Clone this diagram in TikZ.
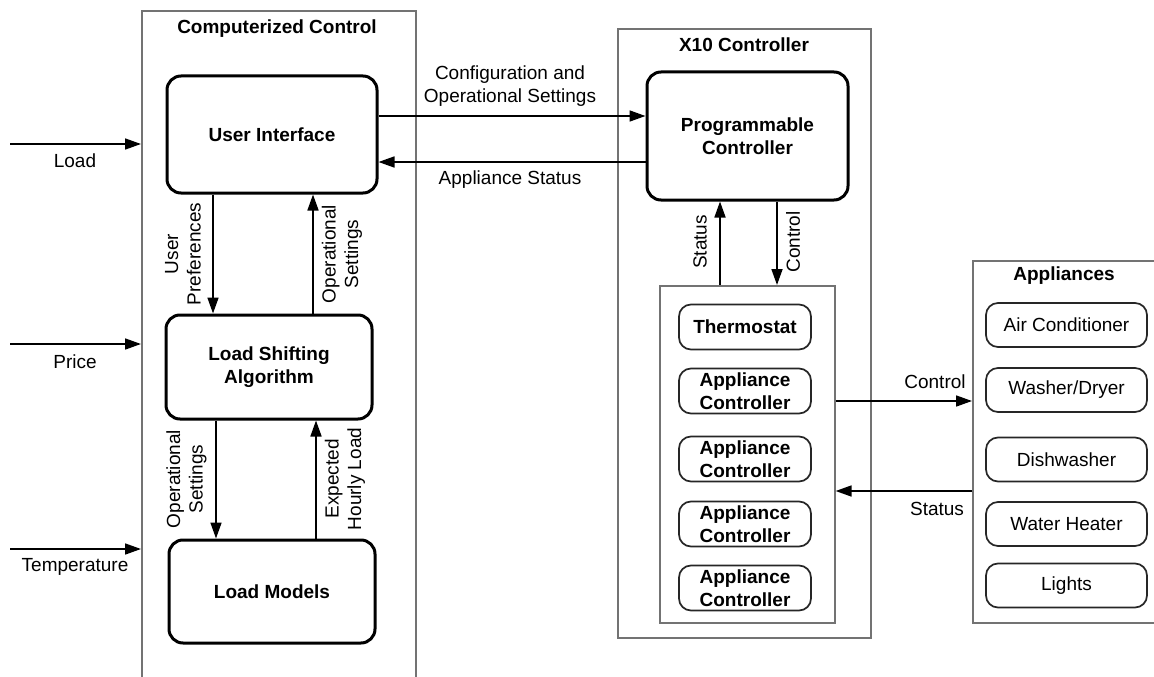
\documentclass[tikz,border=0pt]{standalone}
\usepackage{fontspec}
\setmainfont{Liberation Sans}
\usetikzlibrary{arrows.meta}
\begin{document}
\begin{tikzpicture}[x=1pt,y=-1pt,
  font=\fontsize{19}{22.5}\selectfont,
  group/.style={draw=black!55,line width=1.6pt,inner sep=0pt,anchor=north west},
  bigbox/.style={draw=black,line width=3pt,rounded corners=14pt,align=center,inner sep=0pt,font=\fontsize{19}{22.5}\selectfont\bfseries},
  smallbox/.style={draw=black!85,line width=1.7pt,rounded corners=12pt,align=center,inner sep=0pt,minimum height=45pt},
  ctrlbox/.style={smallbox,minimum width=132pt,font=\fontsize{19}{22.5}\selectfont\bfseries},
  appbox/.style={smallbox,minimum width=161pt,minimum height=44pt},
  arr/.style={-{Triangle[length=16pt,width=11pt]},line width=1.7pt},
  lbl/.style={align=center,inner sep=0pt},
  vlbl/.style={align=center,inner sep=0pt,rotate=90},
  grouptitle/.style={inner sep=0pt,anchor=base,font=\fontsize{19}{22.5}\selectfont\bfseries}]
\clip (0,0) rectangle (1154,677);
\fill[white] (0,0) rectangle (1154,677);

% group frames
\node[group,minimum width=274pt,minimum height=720pt] (cc) at (141,10) {};
\node[group,minimum width=253pt,minimum height=609pt] (x10) at (617,28) {};
\node[group,minimum width=175pt,minimum height=337pt] (inner) at (659,285) {};
\node[group,minimum width=250pt,minimum height=362pt] (app) at (972,260) {};

\node[grouptitle] (cctitle) at (277,34) {Computerized Control};
\node[grouptitle] (x10title) at (744,52) {X10 Controller};
\node[grouptitle] (apptitle) at (1064,280) {Appliances};

% main blocks
\node[bigbox,minimum width=210pt,minimum height=117pt] (ui) at (272,134.5) {User Interface};
\node[bigbox,minimum width=206pt,minimum height=104pt] (lsa) at (269,367) {Load Shifting\\Algorithm};
\node[bigbox,minimum width=206pt,minimum height=103pt] (lm) at (272,591.5) {Load Models};
\node[bigbox,minimum width=201pt,minimum height=128pt] (pc) at (747.5,136) {Programmable\\Controller};

% controllers
\node[ctrlbox] (th) at (745,327) {Thermostat};
\node[ctrlbox] (ac1) at (745,391) {Appliance\\Controller};
\node[ctrlbox] (ac2) at (745,459) {Appliance\\Controller};
\node[ctrlbox] (ac3) at (745,524) {Appliance\\Controller};
\node[ctrlbox] (ac4) at (745,588) {Appliance\\Controller};

% appliances
\node[appbox] (acon) at (1066.5,325) {Air Conditioner};
\node[appbox] (wd) at (1066.5,390) {Washer/Dryer};
\node[appbox] (dw) at (1066.5,459.5) {Dishwasher};
\node[appbox] (wh) at (1066.5,524) {Water Heater};
\node[appbox] (li) at (1066.5,585.5) {Lights};

% inputs
\coordinate (loadin) at (10,144);
\coordinate (pricein) at (10,344);
\coordinate (tempin) at (10,549);
\draw[arr] (loadin) -- (loadin -| cc.west);
\draw[arr] (pricein) -- (pricein -| cc.west);
\draw[arr] (tempin) -- (tempin -| cc.west);
\node[lbl] (loadlbl) at (75,161) {Load};
\node[lbl] (pricelbl) at (75,362) {Price};
\node[lbl] (templbl) at (75,567) {Temperature};

% UI <-> LSA
\draw[arr] (ui.south -| 213,0) -- (lsa.north -| 213,0);
\draw[arr] (lsa.north -| 313,0) -- (ui.south -| 313,0);
\node[vlbl] (uplbl) at (183,254) {User\\Preferences};
\node[vlbl] (os1lbl) at (342,254) {Operational\\Settings};

% LSA <-> LM
\draw[arr] (lsa.south -| 216,0) -- (lm.north -| 216,0);
\draw[arr] (lm.north -| 316,0) -- (lsa.south -| 316,0);
\node[vlbl] (os2lbl) at (186.5,479) {Operational\\Settings};
\node[vlbl] (ehllbl) at (345,479) {Expected\\Hourly Load};

% UI <-> PC
\draw[arr] (ui.east |- 0,116) -- (pc.west |- 0,116);
\draw[arr] (pc.west |- 0,162) -- (ui.east |- 0,162);
\node[lbl] (cfglbl) at (510,86) {Configuration and\\Operational Settings};
\node[lbl] (aslbl) at (510,179.5) {Appliance Status};

% PC <-> inner
\draw[arr] (inner.north -| 720,0) -- (pc.south -| 720,0);
\draw[arr] (pc.south -| 777,0) -- (inner.north -| 777,0);
\node[vlbl] (stlbl) at (700,242) {Status};
\node[vlbl] (ctlbl) at (793,242) {Control};

% inner <-> appliances
\draw[arr] (inner.east |- 0,401) -- (app.west |- 0,401);
\draw[arr] (app.west |- 0,491) -- (inner.east |- 0,491);
\node[lbl] (ctl2lbl) at (935,382) {Control};
\node[lbl] (st2lbl) at (937,509) {Status};
\end{tikzpicture}
\end{document}
